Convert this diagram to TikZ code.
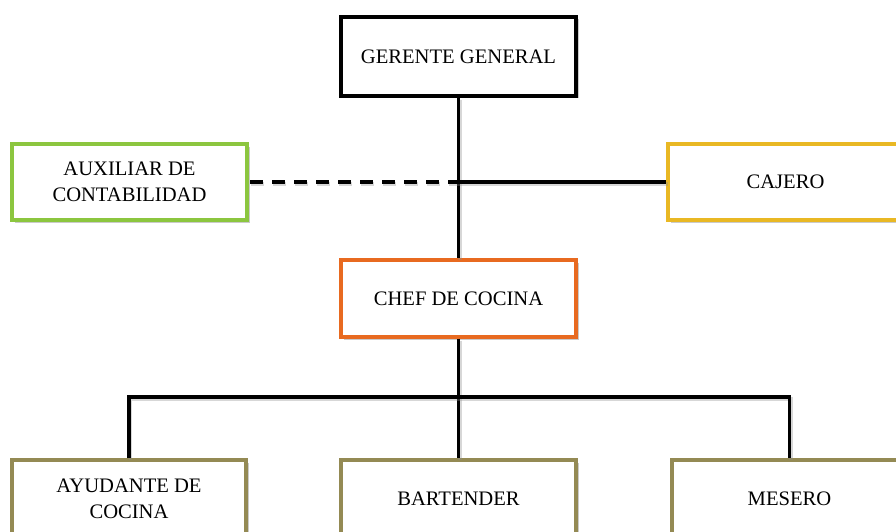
\documentclass[tikz,border=0pt]{standalone}
\usepackage{fontspec}
\setmainfont{Liberation Serif}
\usetikzlibrary{shadows}
\definecolor{cgreen}{RGB}{140,198,63}
\definecolor{cgold}{RGB}{233,184,36}
\definecolor{corange}{RGB}{232,106,32}
\definecolor{colive}{RGB}{148,138,84}
\tikzset{
  orgbox/.style={draw, line width=3.3pt, fill=white, rectangle, minimum width=235pt,
    minimum height=78pt, align=center, inner sep=0pt,
    font=\fontsize{20.6}{25.5}\selectfont,
    drop shadow={shadow xshift=2.5pt, shadow yshift=-2.5pt, opacity=0.35, fill=black!60}},
  link/.style={line width=3.3pt, line join=miter,
    preaction={draw=black!45, opacity=0.35, line width=3.3pt, transform canvas={shift={(1.5pt,-2pt)}}}},
  dashlink/.style={line width=3.3pt, dash pattern=on 13pt off 9pt, dash phase=2pt,
    preaction={draw=black!45, opacity=0.35, line width=3.3pt, dash pattern=on 13pt off 9pt, dash phase=2pt, transform canvas={shift={(1.5pt,-2pt)}}}}
}
\begin{document}
\begin{tikzpicture}[x=1pt,y=1pt]
\useasboundingbox (0,0) rectangle (896,-532);
\coordinate (junc) at (458.5,-182);
\coordinate (busL) at (129,-397);
\coordinate (busR) at (789.5,-397);
\node[orgbox, draw=black, minimum height=79pt] (ger) at (458.5,-56.5) {GERENTE GENERAL};
\node[orgbox, draw=cgreen, minimum height=76pt] (aux) at (129.5,-182) {AUXILIAR DE\\CONTABILIDAD};
\node[orgbox, draw=cgold, minimum height=76pt] (caj) at (785.5,-182) {CAJERO};
\node[orgbox, draw=corange, minimum height=77pt] (chef) at (458.5,-298.5) {CHEF DE COCINA};
\node[orgbox, draw=colive, minimum width=234pt] (ayu) at (129,-499) {AYUDANTE DE\\COCINA};
\node[orgbox, draw=colive] (bar) at (458.5,-499) {BARTENDER};
\node[orgbox, draw=colive] (mes) at (789.5,-499) {MESERO};
\draw[link] (ger.south) -- (chef.north);
\draw[dashlink] (junc) -- (aux.east);
\draw[link] (junc) -- (caj.west);
\draw[link] (chef.south) -- (bar.north);
\draw[link] (ayu.north) -- (busL) -- (busR) -- (mes.north);
\end{tikzpicture}
\end{document}
